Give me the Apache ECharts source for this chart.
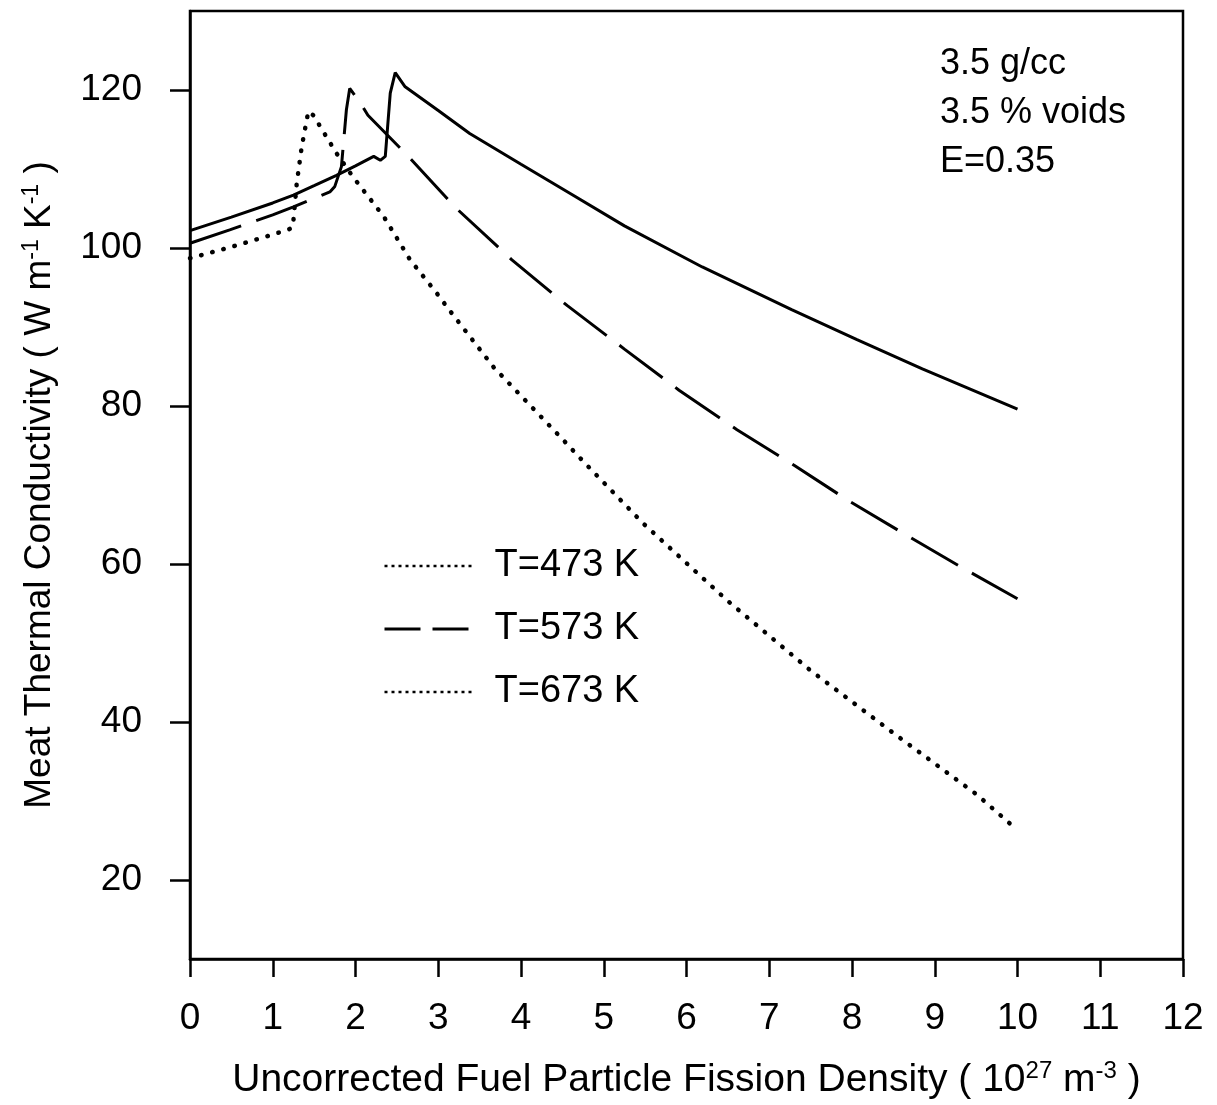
<!DOCTYPE html>
<html>
<head>
<meta charset="utf-8">
<script src="https://cdn.jsdelivr.net/npm/echarts@6/dist/echarts.min.js"></script>
<style>
html,body{margin:0;padding:0;background:#fff;}
#chart{width:1217px;height:1105px;}
</style>
</head>
<body>
<div id="chart"></div>
<script>
// Series names
const seriesNames = ['T=473 K', 'T=573 K', 'T=673 K'];

// T=473 K (solid)
const x473 = [0, 0.5, 1.0, 1.25, 1.5, 1.77, 2.0, 2.22, 2.30, 2.36, 2.42, 2.48, 2.60, 3.0, 3.38, 4.0, 4.61, 5.25, 6.19, 7.27, 8.06, 8.85, 10.0];
const y473 = [102.2, 103.9, 105.7, 106.7, 107.9, 109.2, 110.4, 111.6, 111.1, 111.6, 119.6, 122.2, 120.4, 117.4, 114.5, 110.6, 106.8, 102.8, 97.6, 92.2, 88.4, 84.7, 79.6];

// T=573 K (long dash)
const x573 = [0, 0.48, 1.0, 1.25, 1.69, 1.75, 1.83, 1.89, 1.93, 2.05, 2.15, 2.62, 3.22, 3.89, 4.56, 5.25, 5.91, 6.61, 7.30, 7.96, 8.65, 9.32, 10.0];
const y573 = [100.6, 102.3, 104.2, 105.2, 107.1, 107.8, 110.3, 117.5, 120.2, 118.5, 116.8, 111.8, 105.0, 98.5, 92.7, 87.2, 82.0, 77.0, 72.5, 68.0, 63.7, 59.6, 55.6];

// T=673 K (dotted)
const x673 = [0, 0.52, 1.0, 1.23, 1.25, 1.29, 1.35, 1.43, 1.49, 1.77, 1.97, 2.34, 2.66, 2.98, 3.13, 3.67, 4.51, 4.76, 5.47, 6.49, 7.49, 8.50, 9.51, 10.0];
const y673 = [98.7, 100.2, 101.7, 102.5, 103.5, 108.2, 112.8, 117.3, 116.8, 112.0, 109.0, 104.0, 98.5, 94.3, 92.2, 84.9, 75.7, 72.9, 65.2, 55.4, 46.6, 38.6, 30.8, 26.3];

// Axis ticks
const yTicks = [20, 40, 60, 80, 100, 120];
const annotationLines = ['3.5 g/cc', '3.5 % voids', 'E=0.35'];

const pairs = (xs, ys) => xs.map((x, i) => [x, ys[i]]);
const FONT = 'Liberation Sans, Arial, Helvetica, sans-serif';

const chart = echarts.init(document.getElementById('chart'), null, {renderer: 'canvas'});

const option = {
  backgroundColor: '#fff',
  animation: false,
  grid: {
    left: 190, right: 34, top: 11, bottom: 146,
    outerBoundsMode: 'none', containLabel: false,
    show: true, borderColor: '#000', borderWidth: 2.5, backgroundColor: 'transparent'
  },
  xAxis: {
    type: 'value', min: 0, max: 12, interval: 1,
    name: 'Uncorrected Fuel Particle Fission Density ( 10{sup|27} m{sup|-3} )',
    nameLocation: 'middle', nameGap: 100,
    nameTextStyle: {
      fontFamily: FONT, fontSize: 39, color: '#000', lineHeight: 42,
      rich: { sup: { fontFamily: FONT, fontSize: 24, color: '#000', verticalAlign: 'top', lineHeight: 42 } }
    },
    axisLine: { show: true, lineStyle: { color: '#000', width: 2.5 } },
    axisTick: { show: true, inside: false, length: 18, lineStyle: { color: '#000', width: 2.5 } },
    axisLabel: { fontFamily: FONT, fontSize: 37, color: '#000', margin: 41 },
    splitLine: { show: false }
  },
  yAxis: {
    type: 'value', min: 10, max: 130,
    name: 'Meat Thermal Conductivity ( W m{sup|-1} K{sup|-1} )',
    nameLocation: 'middle', nameGap: 130, nameRotate: 90,
    nameTextStyle: {
      fontFamily: FONT, fontSize: 37, color: '#000', lineHeight: 40,
      rich: { sup: { fontFamily: FONT, fontSize: 23, color: '#000', verticalAlign: 'top', lineHeight: 40 } }
    },
    axisLine: { show: true, lineStyle: { color: '#000', width: 2.5 } },
    axisTick: { show: true, inside: false, length: 20, customValues: yTicks, lineStyle: { color: '#000', width: 2.5 } },
    axisLabel: { fontFamily: FONT, fontSize: 37, color: '#000', margin: 48, customValues: yTicks },
    splitLine: { show: false }
  },
  legend: {
    orient: 'vertical', left: 383, top: 547, padding: 0,
    itemWidth: 87, itemHeight: 14, itemGap: 25,
    itemStyle: { opacity: 0, borderWidth: 0 },
    textStyle: { fontFamily: FONT, fontSize: 38, color: '#000', lineHeight: 38, padding: [0, 0, 0, 18] },
    data: [
      { name: seriesNames[0], lineStyle: { type: [3, 4], width: 2.5, cap: 'butt' } },
      { name: seriesNames[1], lineStyle: { type: [36, 12], width: 3 } },
      { name: seriesNames[2], lineStyle: { type: [3, 4], width: 2.5, cap: 'butt' } }
    ]
  },
  graphic: annotationLines.map((t, i) => ({
    type: 'text', left: 940, top: 46 + i * 49,
    style: { text: t, font: '36px ' + FONT, fill: '#000' }
  })),
  series: [
    {
      name: seriesNames[0], type: 'line', data: pairs(x473, y473),
      symbol: 'none', smooth: false,
      lineStyle: { color: '#000', width: 3, type: 'solid' },
      itemStyle: { color: '#000' }
    },
    {
      name: seriesNames[1], type: 'line', data: pairs(x573, y573),
      symbol: 'none', smooth: false,
      lineStyle: { color: '#000', width: 3, type: [54, 16] },
      itemStyle: { color: '#000' }
    },
    {
      name: seriesNames[2], type: 'line', data: pairs(x673, y673),
      symbol: 'none', smooth: false,
      lineStyle: { color: '#000', width: 4.5, type: [0.5, 11], cap: 'round' },
      itemStyle: { color: '#000' }
    }
  ]
};
chart.setOption(option);
</script>
</body>
</html>
